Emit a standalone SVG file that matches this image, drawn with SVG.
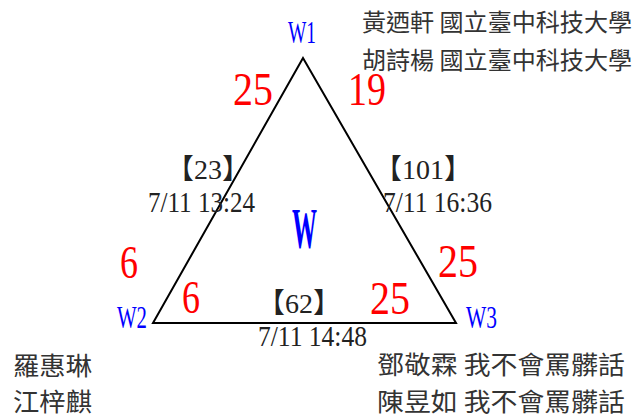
<svg xmlns="http://www.w3.org/2000/svg" width="637" height="417" viewBox="0 0 637 417">
<style>
.red{font-family:"Liberation Serif",serif;fill:#ff0000;font-size:46px}
.blue{font-family:"Liberation Serif",serif;fill:#0000ff;font-size:32px}
.lbl{font-family:"Liberation Serif","Noto Sans CJK TC",serif;fill:#222;font-size:29px}
.br{font-family:"Liberation Serif","Noto Sans CJK TC",serif;fill:#222;font-size:28px}
.cjk{font-family:"Noto Sans CJK TC",sans-serif;fill:#333;font-size:24px}
.edge{stroke:#000;stroke-width:2;fill:none}
</style>
<rect width="637" height="417" fill="#fff"/>
<g id="connectors">
<path class="edge" d="M303 58 L153 323 L456 323 Z"/>
</g>
<g id="W1"><text class="blue" x="288" y="43" textLength="28" lengthAdjust="spacingAndGlyphs">W1</text></g>
<g id="W2"><text class="blue" x="117" y="328" textLength="30" lengthAdjust="spacingAndGlyphs">W2</text></g>
<g id="W3"><text class="blue" x="466" y="328" textLength="31" lengthAdjust="spacingAndGlyphs">W3</text></g>
<g id="W"><text x="292" y="248" textLength="25" lengthAdjust="spacingAndGlyphs" style="font-family:'Liberation Serif',serif;font-weight:bold;fill:#0000ff;font-size:58px">W</text></g>
<g id="scores">
<text class="red" x="233" y="105" textLength="40" lengthAdjust="spacingAndGlyphs">25</text>
<text class="red" x="348" y="105" textLength="38" lengthAdjust="spacingAndGlyphs">19</text>
<text class="red" x="120" y="278" textLength="18" lengthAdjust="spacingAndGlyphs">6</text>
<text class="red" x="182" y="313" textLength="18" lengthAdjust="spacingAndGlyphs">6</text>
<text class="red" x="370" y="314" textLength="40" lengthAdjust="spacingAndGlyphs">25</text>
<text class="red" x="438" y="277" textLength="40" lengthAdjust="spacingAndGlyphs">25</text>
</g>
<g id="edge-labels">
<text class="br" x="208" y="179" text-anchor="middle">【23】</text>
<text class="lbl" x="148" y="212" textLength="107" lengthAdjust="spacingAndGlyphs">7/11 13:24</text>
<text class="br" x="423" y="179" text-anchor="middle">【101】</text>
<text class="lbl" x="383" y="212" textLength="109" lengthAdjust="spacingAndGlyphs">7/11 16:36</text>
<text class="br" x="299" y="313" text-anchor="middle">【62】</text>
<text class="lbl" x="258" y="346" textLength="109" lengthAdjust="spacingAndGlyphs">7/11 14:48</text>
</g>
<g id="names">
<text class="cjk" x="362" y="31" textLength="270" lengthAdjust="spacingAndGlyphs">黃迺軒 國立臺中科技大學</text>
<text class="cjk" x="362" y="69" textLength="270" lengthAdjust="spacingAndGlyphs">胡詩楊 國立臺中科技大學</text>
<text class="cjk" x="13" y="375" textLength="79" lengthAdjust="spacingAndGlyphs" style="font-size:25px">羅惠琳</text>
<text class="cjk" x="13" y="411" textLength="79" lengthAdjust="spacingAndGlyphs" style="font-size:25px">江梓麒</text>
<text class="cjk" x="377" y="374" textLength="248" lengthAdjust="spacingAndGlyphs" style="font-size:25px">鄧敬霖 我不會罵髒話</text>
<text class="cjk" x="377" y="411" textLength="248" lengthAdjust="spacingAndGlyphs" style="font-size:25px">陳昱如 我不會罵髒話</text>
</g>
</svg>
